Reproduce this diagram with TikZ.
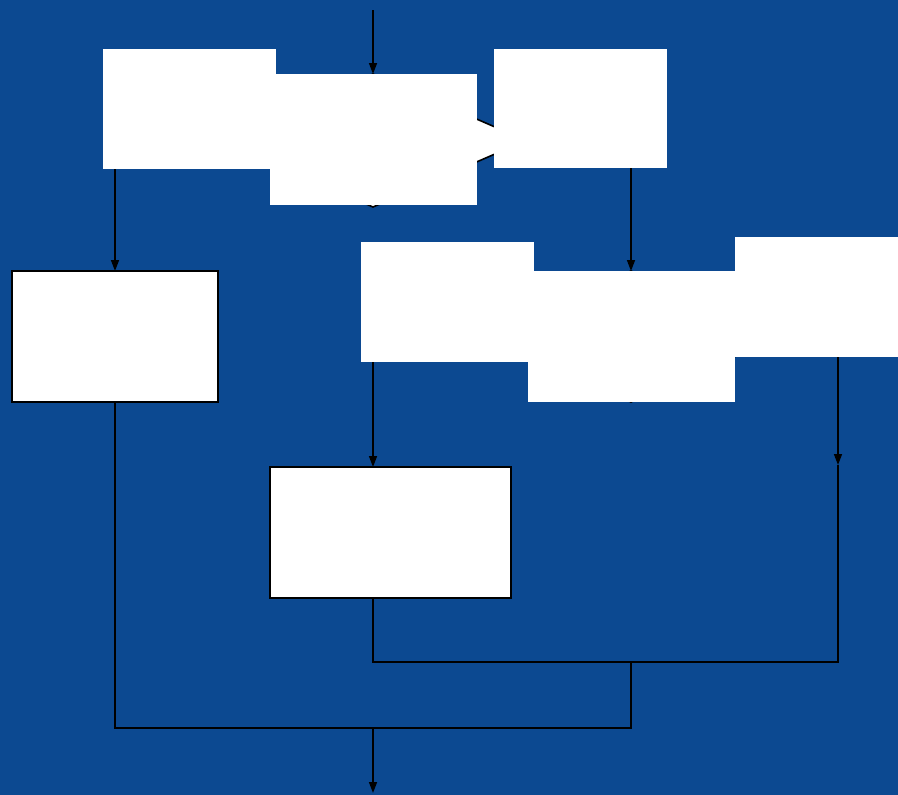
\documentclass[tikz,border=0pt]{standalone}
\usetikzlibrary{arrows.meta, positioning, shapes.geometric}
\definecolor{seablue}{HTML}{0C4991}
\tikzset{
  block/.style={rectangle, draw=black, line width=1.6pt, fill=white, anchor=north west,
    inner sep=0pt, outer sep=0pt},
  blockBlank/.style={rectangle, fill=white, anchor=north west, inner sep=0pt, outer sep=0pt},
  decision/.style={diamond, draw=black, line width=1.6pt, fill=white, inner sep=0pt, outer sep=0pt},
  arrow/.style={-{Triangle[length=11pt, width=8pt]}, line width=1.5pt, black},
  link/.style={line width=1.5pt, black},
}
\begin{document}
\begin{tikzpicture}[x=1pt, y=-1pt]
\fill[seablue] (0,0) rectangle (898,795);
\useasboundingbox (0,0) rectangle (898,795);

% decisions, mostly hidden below the blank blocks
\node[decision, minimum width=306pt, minimum height=133pt] (dec1) at (373,140.5) {};
\node[decision, minimum width=300pt, minimum height=131pt] (dec2) at (631,336.5) {};

% blocks with a frame
\node[block, minimum width=206pt, minimum height=131pt] (left) at (12,271) {};
\node[block, minimum width=241pt, minimum height=131pt] (mid) at (270,467) {};

\coordinate (start) at (373,10);
\coordinate (stop) at (373,793);
\coordinate (midtop) at (373,467);
\coordinate (midbot) at (373,598);
\coordinate (rtip) at (838,465);
\coordinate (join1) at (631,662);
\coordinate (join2) at (373,728);

\draw[arrow] (start) -- (dec1.north);
\draw[arrow] (dec1.west) -| (left.north);
\draw[arrow] (dec1.east) -| (dec2.north);
\draw[arrow] (dec2.west) -| (midtop);
\draw[arrow] (dec2.east) -| (rtip);
\draw[link] (midbot) |- (join1) -| (rtip);
\draw[link] (left.south) |- (join2) -| (join1);
\draw[arrow] (join2) -- (stop);

% blank blocks on top
\node[blockBlank, minimum width=173pt, minimum height=120pt] (b1) at (103,49) {};
\node[blockBlank, minimum width=207pt, minimum height=131pt] (b2) at (270,74) {};
\node[blockBlank, minimum width=173pt, minimum height=119pt] (b3) at (494,49) {};
\node[blockBlank, minimum width=173pt, minimum height=120pt] (b4) at (361,242) {};
\node[blockBlank, minimum width=207pt, minimum height=131pt] (b5) at (528,271) {};
\node[blockBlank, minimum width=163pt, minimum height=120pt] (b6) at (735,237) {};
\end{tikzpicture}
\end{document}
